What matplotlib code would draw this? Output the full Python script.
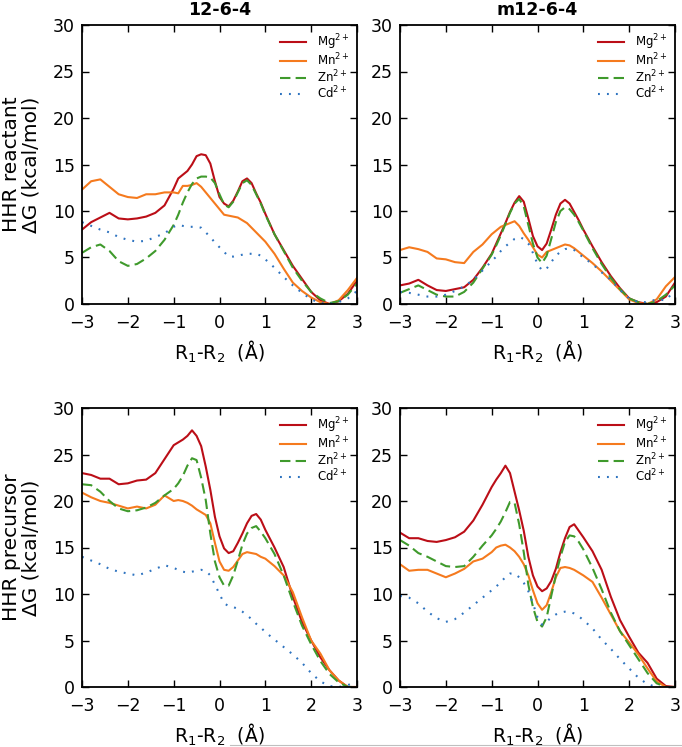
import matplotlib
matplotlib.use("Agg")
import matplotlib.pyplot as plt
from matplotlib.lines import Line2D

# reaction coordinate R1-R2 (Angstrom); finer around the barrier
X = [-3.0, -2.8, -2.6, -2.4, -2.2, -2.0, -1.8, -1.6, -1.4, -1.2,
     -1.0, -0.9, -0.8, -0.7, -0.6, -0.5, -0.4, -0.3, -0.2, -0.1, 0.0,
     0.1, 0.2, 0.3, 0.4, 0.5, 0.6, 0.7, 0.8, 0.9, 1.0,
     1.2, 1.4, 1.6, 1.8, 2.0, 2.2, 2.4, 2.6, 2.8, 3.0]

ions = ["Mg$^{2+}$", "Mn$^{2+}$", "Zn$^{2+}$", "Cd$^{2+}$"]
titles = ["12-6-4", "m12-6-4"]
row_labels = ["HHR reactant\n\u0394G (kcal/mol)", "HHR precursor\n\u0394G (kcal/mol)"]
x_label = "R$_1$-R$_2$  (\u00c5)"

# HHR reactant, 12-6-4
react_1264_mg = [8.0, 8.8, 9.3, 9.8, 9.2, 9.1, 9.2, 9.4, 9.8, 10.6,
                 12.4, 13.5, 13.9, 14.3, 15.0, 15.9, 16.1, 16.0, 15.1, 13.2, 11.5,
                 10.8, 10.5, 11.1, 12.1, 13.2, 13.5, 13.0, 11.9, 10.9, 9.7,
                 7.5, 5.8, 4.1, 2.7, 1.3, 0.4, 0.0, 0.3, 1.1, 2.5]
react_1264_mn = [12.3, 13.2, 13.4, 12.6, 11.8, 11.5, 11.4, 11.8, 11.8, 12.0,
                 12.0, 11.9, 12.7, 12.7, 12.8, 13.0, 12.6, 12.0, 11.4, 10.8, 10.2,
                 9.6, 9.5, 9.4, 9.3, 9.0, 8.7, 8.2, 7.7, 7.2, 6.7,
                 5.4, 3.8, 2.3, 1.4, 0.7, 0.2, 0.0, 0.4, 1.5, 2.8]
react_1264_zn = [5.5, 6.1, 6.4, 5.7, 4.6, 4.1, 4.3, 4.9, 5.7, 6.9,
                 8.5, 9.6, 10.9, 12.0, 12.9, 13.5, 13.7, 13.7, 13.6, 13.0, 11.8,
                 10.7, 10.4, 11.0, 12.0, 13.0, 13.3, 12.8, 11.8, 10.8, 9.6,
                 7.5, 5.7, 3.9, 2.5, 1.3, 0.6, 0.1, 0.3, 1.0, 2.2]
react_1264_cd = [8.8, 8.4, 8.0, 7.7, 7.2, 6.9, 6.7, 6.8, 7.2, 7.6,
                 8.3, 8.5, 8.4, 8.3, 8.3, 8.3, 8.2, 7.7, 7.2, 6.6, 6.1,
                 5.6, 5.1, 5.1, 5.2, 5.3, 5.4, 5.4, 5.4, 5.2, 4.8,
                 3.9, 2.9, 2.0, 1.2, 0.5, 0.1, 0.0, 0.2, 0.6, 1.4]

# HHR reactant, m12-6-4
react_m1264_mg = [2.0, 2.2, 2.6, 2.0, 1.5, 1.4, 1.6, 1.8, 2.6, 3.9,
                  5.4, 6.5, 7.6, 8.7, 9.9, 10.9, 11.6, 11.0, 9.2, 7.3, 6.2,
                  5.8, 6.5, 8.0, 9.6, 10.8, 11.2, 10.8, 9.9, 9.0, 8.0,
                  6.2, 4.5, 3.0, 1.7, 0.6, 0.2, 0.0, 0.2, 0.8, 2.3]
react_m1264_mn = [5.8, 6.1, 5.9, 5.6, 4.9, 4.8, 4.5, 4.4, 5.6, 6.4,
                  7.5, 7.9, 8.3, 8.5, 8.7, 8.9, 8.4, 7.6, 6.9, 6.1, 5.3,
                  5.0, 5.6, 5.8, 6.0, 6.2, 6.4, 6.3, 6.0, 5.6, 5.2,
                  4.4, 3.5, 2.5, 1.5, 0.5, 0.1, 0.0, 0.5, 1.9, 2.9]
react_m1264_zn = [1.2, 1.6, 2.0, 1.5, 1.0, 0.8, 0.8, 1.3, 2.3, 3.8,
                  5.3, 6.3, 7.4, 8.6, 9.8, 10.8, 11.3, 10.5, 8.5, 6.5, 5.0,
                  4.4, 5.2, 7.0, 8.8, 10.0, 10.4, 10.2, 9.6, 8.8, 7.9,
                  6.0, 4.3, 2.8, 1.6, 0.6, 0.2, 0.0, 0.3, 1.0, 2.0]
react_m1264_cd = [1.3, 1.2, 1.0, 0.8, 0.8, 1.0, 1.4, 1.9, 2.6, 3.6,
                  4.6, 5.1, 5.7, 6.2, 6.6, 7.0, 7.2, 7.0, 6.5, 5.5, 4.3,
                  3.6, 3.8, 4.5, 5.2, 5.6, 5.9, 6.0, 5.8, 5.4, 5.0,
                  4.3, 3.4, 2.6, 1.5, 0.6, 0.2, 0.2, 0.5, 0.4, 1.5]

# HHR precursor, 12-6-4
prec_1264_mg = [23.0, 22.8, 22.4, 22.4, 21.8, 21.9, 22.2, 22.3, 23.0, 24.5,
                26.0, 26.3, 26.6, 27.0, 27.6, 27.0, 25.9, 23.7, 21.2, 18.3, 16.2,
                14.9, 14.4, 14.6, 15.5, 16.5, 17.6, 18.4, 18.6, 18.0, 16.9,
                15.0, 12.9, 9.7, 7.0, 5.0, 3.2, 1.8, 0.7, 0.0, 0.0]
prec_1264_mn = [20.9, 20.4, 20.0, 19.8, 19.5, 19.2, 19.4, 19.2, 19.6, 20.6,
                20.0, 20.1, 20.0, 19.8, 19.5, 19.1, 18.8, 18.5, 17.6, 15.5, 13.5,
                12.6, 12.5, 12.9, 13.6, 14.3, 14.5, 14.4, 14.3, 14.0, 13.8,
                13.0, 12.0, 10.2, 7.5, 5.0, 3.6, 1.8, 0.7, 0.0, 0.0]
prec_1264_zn = [21.8, 21.7, 21.0, 20.0, 19.2, 18.9, 19.0, 19.3, 19.8, 20.6,
                21.3, 21.9, 22.7, 23.8, 24.6, 24.4, 22.5, 20.1, 16.5, 13.5, 11.8,
                10.9, 10.9, 12.0, 13.6, 15.3, 16.5, 17.1, 17.3, 16.7, 16.0,
                14.3, 12.0, 9.2, 6.6, 4.6, 2.8, 1.4, 0.5, 0.0, 0.0]
prec_1264_cd = [14.0, 13.6, 13.2, 12.7, 12.4, 12.2, 12.0, 12.3, 12.7, 13.1,
                12.8, 12.6, 12.4, 12.3, 12.4, 12.5, 12.6, 12.5, 12.0, 11.0, 10.0,
                9.0, 8.7, 8.6, 8.4, 8.1, 7.7, 7.3, 6.8, 6.4, 5.9,
                5.1, 4.3, 3.5, 2.6, 1.5, 0.6, 0.1, 0.0, 0.2, 0.6]

# HHR precursor, m12-6-4
prec_m1264_mg = [16.6, 16.0, 16.0, 15.7, 15.6, 15.8, 16.1, 16.7, 17.9, 19.6,
                 21.5, 22.3, 23.0, 23.8, 23.0, 21.0, 19.0, 16.8, 14.0, 12.0, 10.8,
                 10.3, 10.6, 11.4, 12.7, 14.5, 16.0, 17.2, 17.5, 16.8, 16.1,
                 14.6, 12.6, 9.7, 7.2, 5.4, 3.7, 2.6, 0.9, 0.1, 0.0]
prec_m1264_mn = [13.2, 12.5, 12.6, 12.6, 12.2, 11.8, 12.2, 12.7, 13.5, 13.8,
                 14.5, 15.0, 15.2, 15.3, 15.0, 14.6, 14.0, 13.2, 12.0, 10.4, 9.0,
                 8.3, 8.8, 10.2, 11.8, 12.8, 12.9, 12.8, 12.6, 12.3, 12.0,
                 11.3, 9.6, 7.8, 6.0, 4.8, 3.5, 2.0, 0.6, 0.0, 0.0]
prec_m1264_zn = [15.8, 15.2, 14.4, 14.0, 13.5, 13.0, 12.9, 13.0, 14.0, 15.2,
                 16.3, 17.0, 17.8, 18.8, 19.9, 19.8, 17.5, 14.5, 11.0, 8.6, 7.0,
                 6.5, 7.5, 9.8, 12.0, 14.0, 15.6, 16.3, 16.2, 15.6, 14.8,
                 12.8, 10.5, 8.0, 6.0, 4.5, 3.0, 1.5, 0.4, 0.0, 0.0]
prec_m1264_cd = [9.8, 9.6, 9.0, 8.1, 7.4, 7.0, 7.3, 8.0, 8.8, 9.6,
                 10.4, 10.8, 11.3, 11.8, 12.2, 12.2, 11.8, 11.2, 10.3, 9.0, 7.5,
                 6.7, 7.0, 7.5, 7.8, 8.0, 8.1, 8.1, 7.9, 7.6, 7.2,
                 6.3, 5.1, 4.1, 3.0, 2.0, 1.0, 0.3, 0.0, 0.0, 0.0]

panels = [
    [react_1264_mg, react_1264_mn, react_1264_zn, react_1264_cd],
    [react_m1264_mg, react_m1264_mn, react_m1264_zn, react_m1264_cd],
    [prec_1264_mg, prec_1264_mn, prec_1264_zn, prec_1264_cd],
    [prec_m1264_mg, prec_m1264_mn, prec_m1264_zn, prec_m1264_cd],
]

COLORS = ["#bb0e17", "#f57a1e", "#3f9a2c", "#2f74c0"]
STYLES = [dict(ls="-"), dict(ls="-"), dict(dashes=(5, 2.5)), dict(dashes=(0.9, 3.4))]

plt.rcParams["font.family"] = "DejaVu Sans"
plt.rcParams["mathtext.fontset"] = "dejavusans"

fig = plt.figure(figsize=(6.82, 7.47), dpi=100)
fig.patch.set_facecolor("white")

W, H = 682, 747
LEFTS = [82, 400]
TOPS = [25, 408]
AX_W, AX_H = 275, 279

for i, series in enumerate(panels):
    row, col = divmod(i, 2)
    l = LEFTS[col] / W
    b = 1 - (TOPS[row] + AX_H) / H
    ax = fig.add_axes([l, b, AX_W / W, AX_H / H])

    for ys, name, c, st in zip(series, ions, COLORS, STYLES):
        ax.plot(X, ys, color=c, lw=1.5, label=name, **st)

    ax.set_xlim(-3, 3)
    ax.set_ylim(0, 30)
    ax.set_xticks(range(-3, 4))
    ax.set_yticks(range(0, 31, 5))
    ax.tick_params(direction="in", top=True, right=True, length=5, width=1,
                   labelsize=12.5)
    ax.tick_params(axis="x", pad=7)
    ax.tick_params(axis="y", pad=5)
    for sp in ax.spines.values():
        sp.set_linewidth(1.3)

    ax.set_xlabel(x_label, fontsize=13.5, labelpad=5)
    if col == 0:
        ax.set_ylabel(row_labels[row], fontsize=14.5, labelpad=9, linespacing=1.05)
    if row == 0:
        ax.set_title(titles[col], fontsize=12.5, fontweight="bold", pad=7)

    ax.legend(loc="upper right", frameon=False, fontsize=8.5, handlelength=2.2,
              labelspacing=0.0, borderaxespad=0.2, handletextpad=1.0)

# thin grey rule along the bottom edge, as in the source page
fig.add_artist(Line2D([0.337, 1.0], [0.003, 0.003], color="0.75", lw=0.8))

fig.savefig("out.png", dpi=100, facecolor="white")
